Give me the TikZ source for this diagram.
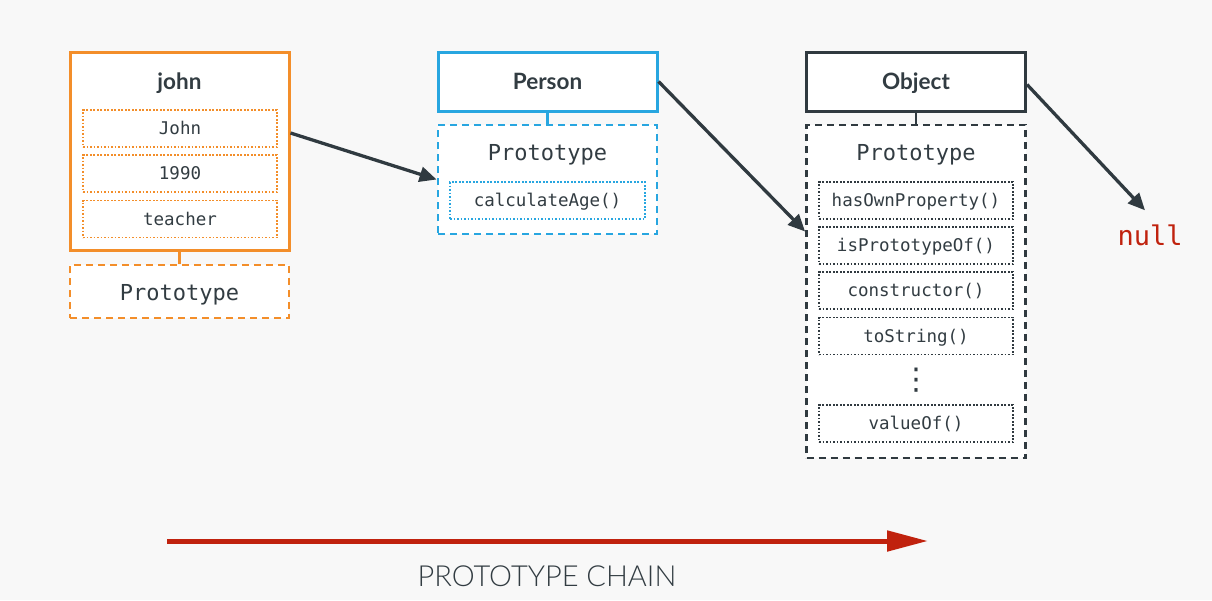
\documentclass[tikz,border=0pt]{standalone}
\usepackage{fontspec}
\setmainfont{Lato}
\newfontfamily\monofont{DejaVu Sans Mono}
\newfontfamily\lightfont{Lato Light}
\newfontfamily\symfont{DejaVu Sans}
\usetikzlibrary{arrows.meta}
\definecolor{bg}{RGB}{248,248,248}
\definecolor{ink}{RGB}{50,60,66}
\definecolor{jorange}{RGB}{243,142,42}
\definecolor{pblue}{RGB}{40,166,224}
\definecolor{odark}{RGB}{48,58,64}
\definecolor{chainred}{RGB}{192,34,14}
\begin{document}
\begin{tikzpicture}[x=1pt,y=-1pt,
  objbox/.style={draw, line width=3pt, fill=white, inner sep=0pt, minimum width=219pt},
  title/.style={font=\bfseries\fontsize{22.5}{26}\selectfont, text=ink, inner sep=0pt, anchor=base},
  protobox/.style={draw, line width=2.8pt, dash pattern=on 7pt off 5pt, fill=white, inner sep=0pt, minimum width=219pt},
  prototext/.style={font=\monofont\fontsize{22}{26}\selectfont, text=ink, inner sep=0pt, anchor=base},
  field/.style={draw, line width=1.7pt, dash pattern=on 1.7pt off 1.8pt, inner sep=0pt,
    minimum height=37pt, text height=12.8pt, text depth=0pt,
    font=\monofont\fontsize{17.5}{21}\selectfont, text=ink},
  chain/.style={line width=3.3pt, draw=odark, -{Triangle[length=17pt,width=15pt]}}
]
% canvas
\path[fill=bg, use as bounding box] (0,0) rectangle (1212,600);

% --- john ---
\node[objbox, draw=jorange, minimum height=198pt] (john) at (179.5,151) {};
\node[title] (johnT) at (179.5,89) {john};
\node[field, draw=jorange, minimum width=194pt] (jname) at (180,128.5) {John};
\node[field, draw=jorange, minimum width=194pt] (jyear) at (180,173.5) {1990};
\node[field, draw=jorange, minimum width=194pt] (jjob) at (180,219) {teacher};
\node[protobox, draw=jorange, minimum height=53pt] (jproto) at (179.5,291.5) {};
\node[prototext] (jprotoT) at (179.5,300) {Prototype};
\draw[line width=2.6pt, draw=jorange] (john.south) -- (jproto.north);

% --- Person ---
\node[objbox, draw=pblue, minimum height=59pt] (person) at (547.5,81.5) {};
\node[title] (personT) at (547.5,89.5) {Person};
\node[protobox, draw=pblue, minimum height=109pt] (pproto) at (547.5,179.5) {};
\node[prototext] (pprotoT) at (547.5,160) {Prototype};
\node[field, draw=pblue, minimum width=195pt] (calc) at (547.5,200.5) {calculateAge()};
\draw[line width=2.6pt, draw=pblue] (person.south) -- (pproto.north);

% --- Object ---
\node[objbox, draw=odark, minimum height=59pt] (object) at (916,81.5) {};
\node[title] (objectT) at (916,89.5) {Object};
\node[protobox, draw=odark, minimum height=333pt] (oproto) at (916,291.5) {};
\node[prototext] (oprotoT) at (916,160) {Prototype};
\node[field, draw=odark, minimum width=194pt] (own) at (916,200.5) {hasOwnProperty()};
\node[field, draw=odark, minimum width=194pt] (isproto) at (916,245.5) {isPrototypeOf()};
\node[field, draw=odark, minimum width=194pt] (ctor) at (916,290.5) {constructor()};
\node[field, draw=odark, minimum width=194pt] (tostr) at (916,336) {toString()};
\node[text=ink, inner sep=0pt, font=\symfont\fontsize{30}{30}\selectfont] (more) at (916,380) {⋮};
\node[field, draw=odark, minimum width=194pt] (valof) at (916,423.5) {valueOf()};
\draw[line width=2.6pt, draw=odark] (object.south) -- (oproto.north);

% --- null ---
\node[font=\monofont\fontsize{27}{30}\selectfont, text=chainred, inner sep=0pt] (null) at (1150,235) {null};

% --- prototype links ---
\draw[chain] ([yshift=18pt]john.east) -- (pproto.west);
\draw[chain] (person.east) -- ([yshift=60pt]oproto.west);
\draw[chain] ([yshift=-3pt]object.east) -- ([xshift=-5pt,yshift=14pt]null.north);

% --- chain direction ---
\coordinate (chainStart) at (167,541);
\coordinate (chainEnd) at (928,541);
\draw[line width=5pt, draw=chainred, -{Triangle[length=41pt,width=20pt]}] (chainStart) -- (chainEnd);
\node[font=\lightfont\fontsize{29}{32}\selectfont, text=ink, inner sep=0pt, anchor=base] (chainLabel) at (547,586) {PROTOTYPE CHAIN};
\end{tikzpicture}
\end{document}
